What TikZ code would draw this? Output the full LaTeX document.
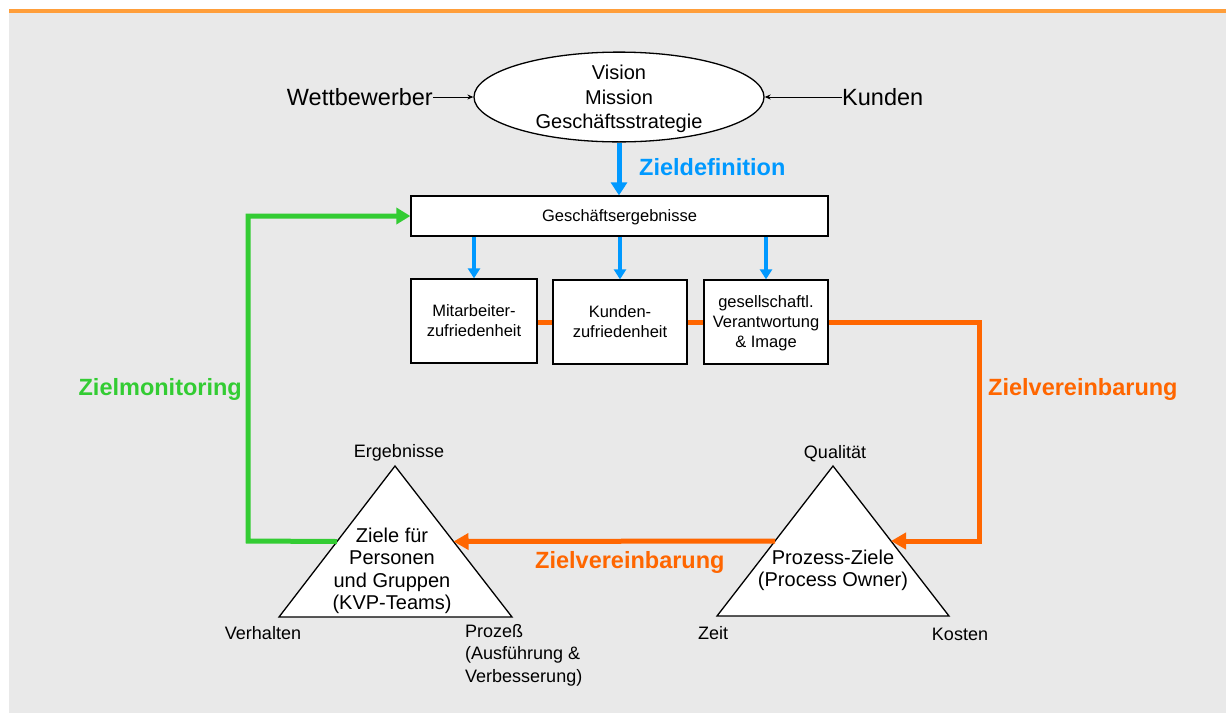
\documentclass[tikz,border=0pt]{standalone}
\usepackage{fontspec}
\setmainfont{Liberation Sans}
\usetikzlibrary{arrows.meta,shapes.geometric,calc}

\definecolor{panelgray}{RGB}{233,233,233}
\definecolor{barorange}{RGB}{255,158,58}
\definecolor{zorange}{RGB}{255,102,0}
\definecolor{zblue}{RGB}{0,153,255}
\definecolor{zgreen}{RGB}{51,204,51}

\newcommand{\ellfont}{\fontsize{20}{24.5}\selectfont}
\newcommand{\boxfont}{\fontsize{16.5}{20}\selectfont}
\newcommand{\trifont}{\fontsize{20}{22.5}\selectfont}
\newcommand{\cornerfont}{\fontsize{18}{22.5}\selectfont}
\newcommand{\labelfont}{\fontsize{23.5}{26}\selectfont\bfseries}

\begin{document}
\begin{tikzpicture}[x=1pt,y=-1pt,
  box/.style={draw,line width=1.3pt,fill=white,inner sep=0pt,align=center,font=\boxfont,text depth=0pt},
  blueline/.style={zblue,line width=5pt,-{Triangle[length=13pt,width=16pt]}},
  smallblue/.style={zblue,line width=4pt,-{Triangle[length=10pt,width=12pt]}},
  orangeline/.style={zorange,line width=5pt,line join=miter},
  greenline/.style={zgreen,line width=5pt,line join=miter}]
\useasboundingbox (0,0) rectangle (1226,713);
\fill [panelgray] (9,12) rectangle (1226,713);
\fill [barorange] (9,9) rectangle (1226,12.6);

% top: strategy
\node [ellipse,draw,line width=1.3pt,fill=white,minimum width=290pt,minimum height=86pt,
  inner sep=0pt,align=center,font=\ellfont,text depth=0pt] (strat) at (619,97) {Vision\\Mission\\Geschäftsstrategie};
\node [anchor=east,inner sep=0pt,font=\fontsize{23.5}{26}\selectfont] (wb) at (433,97) {Wettbewerber};
\node [anchor=west,inner sep=0pt,font=\fontsize{23.5}{26}\selectfont] (ku) at (842,97) {Kunden};
\draw [line width=1pt,-{Stealth[length=6pt,width=5pt]}] (wb.east) -- (strat.west);
\draw [line width=1pt,-{Stealth[length=6pt,width=5pt]}] (ku.west) -- (strat.east);

\node [box,minimum width=417pt,minimum height=40pt] (ge) at (619.5,216) {Geschäftsergebnisse};
\draw [blueline] (strat.south) -- (strat.south |- ge.north);
\node [anchor=west,inner sep=0pt,text=zblue,font=\labelfont] (zdef) at (639,167) {Zieldefinition};

% three result boxes
\node [box,minimum width=126pt,minimum height=84pt] (ma) at (474,321) {Mitarbeiter-\\zufriedenheit};
\node [box,minimum width=134pt,minimum height=84pt] (kz) at (620,322) {Kunden-\\zufriedenheit};
\node [box,minimum width=124pt,minimum height=84pt] (gv) at (766,322) {gesellschaftl.\\Verantwortung\\\& Image};
\draw [smallblue] (ge.south -| ma.north) -- (ma.north);
\draw [smallblue] (ge.south -| kz.north) -- (kz.north);
\draw [smallblue] (ge.south -| gv.north) -- (gv.north);

% triangles
\coordinate (lt) at (395,466);
\coordinate (ll) at (279,617);
\coordinate (lr) at (512,617);
\draw [line width=1.3pt,fill=white] (lt) -- (lr) -- (ll) -- cycle;
\coordinate (lin) at ($(lt)!0.5!(ll)$);
\coordinate (lout) at ($(lt)!0.5!(lr)$);
\node [align=center,inner sep=0pt,font=\trifont,text depth=0pt] (ltext) at (392,568.5) {Ziele für\\Personen\\und Gruppen\\(KVP-Teams)};
\node [inner sep=0pt,font=\cornerfont] (erg) at (399,453) {Ergebnisse};
\node [inner sep=0pt,font=\cornerfont] (verh) at (263,633) {Verhalten};
\node [anchor=west,align=left,inner sep=0pt,font=\cornerfont,text depth=0pt] (proz) at (465,653) {Prozeß\\(Ausführung \&\\Verbesserung)};

\coordinate (rt) at (833,466);
\coordinate (rl) at (717,616);
\coordinate (rr) at (949,616);
\draw [line width=1.3pt,fill=white] (rt) -- (rr) -- (rl) -- cycle;
\coordinate (rin) at ($(rt)!0.5!(rr)$);
\coordinate (rout) at ($(rt)!0.5!(rl)$);
\node [align=center,inner sep=0pt,font=\trifont,text depth=0pt] (rtext) at (833,568) {Prozess-Ziele\\(Process Owner)};
\node [inner sep=0pt,font=\cornerfont] (qual) at (835,454) {Qualität};
\node [inner sep=0pt,font=\cornerfont] (zeit) at (713,633) {Zeit};
\node [inner sep=0pt,font=\cornerfont] (kost) at (960,634) {Kosten};

% Zielvereinbarung
\coordinate (oc) at (979,322);
\draw [orangeline] (ma.east |- oc) -- (kz.west |- oc);
\draw [orangeline] (kz.east |- oc) -- (gv.west |- oc);
\draw [orangeline,-{Triangle[length=15pt,width=16pt]}] (gv.east |- oc) -- (oc) -- (oc |- rin) -- (rin);
\draw [orangeline,-{Triangle[length=15pt,width=16pt]}] (rout) -- (lout);
\node [anchor=west,inner sep=0pt,text=zorange,font=\labelfont] (zv1) at (988,389) {Zielvereinbarung};
\node [anchor=west,inner sep=0pt,text=zorange,font=\labelfont] (zv2) at (535,562) {Zielvereinbarung};

% Zielmonitoring
\coordinate (gc) at (248,541);
\draw [greenline,-{Triangle[length=14pt,width=16pt]}] (lin) -- (gc) -- (gc |- ge.west) -- (ge.west);
\node [anchor=east,inner sep=0pt,text=zgreen,font=\labelfont] (zm) at (242,389) {Zielmonitoring};
\end{tikzpicture}
\end{document}
